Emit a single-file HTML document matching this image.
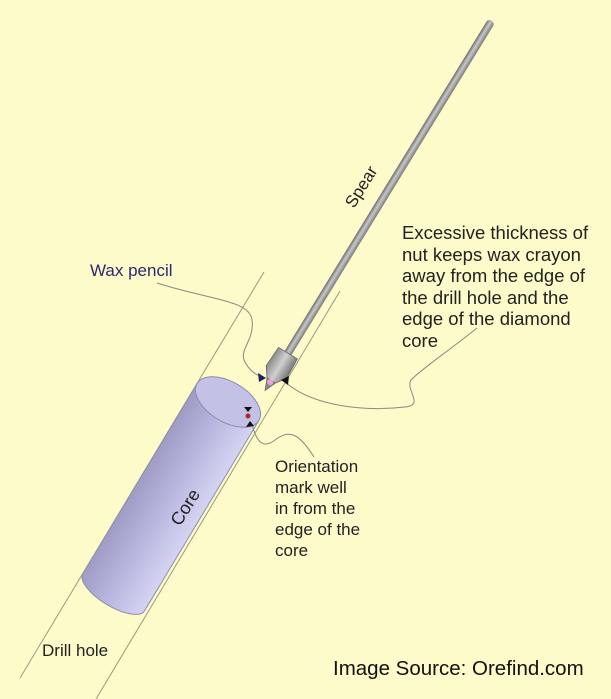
<!DOCTYPE html>
<html><head><meta charset="utf-8"><style>
html,body{margin:0;padding:0;background:#fdfbc9;}
svg{display:block;font-family:"Liberation Sans",Arial,sans-serif;}
</style></head><body>
<svg width="611" height="699" viewBox="0 0 611 699" xmlns="http://www.w3.org/2000/svg">
<defs>
<linearGradient id="cyl" x1="0" y1="0" x2="1" y2="0">
<stop offset="0" stop-color="#9e9cc4"/><stop offset="0.5" stop-color="#b9b7df"/><stop offset="1" stop-color="#d6d4f2"/>
</linearGradient>
<linearGradient id="rod" x1="0" y1="0" x2="1" y2="0">
<stop offset="0" stop-color="#6e6e6e"/><stop offset="0.45" stop-color="#c8c8c8"/><stop offset="1" stop-color="#7a7a7a"/>
</linearGradient>
<linearGradient id="nut" x1="0" y1="0" x2="1" y2="0">
<stop offset="0" stop-color="#8a8a8a"/><stop offset="0.5" stop-color="#d0d0d0"/><stop offset="1" stop-color="#777"/>
</linearGradient>
</defs>
<rect width="611" height="699" fill="#fdfbc9"/>
<!-- drill hole lines -->
<line x1="264" y1="272" x2="20" y2="678" stroke="#9a9a80" stroke-width="1"/>
<line x1="340" y1="291" x2="96" y2="699" stroke="#9a9a80" stroke-width="1"/>
<!-- core cylinder -->
<g transform="translate(228,402) rotate(31)">
<path d="M-36,0 L-36,222 A36,14 0 0 0 36,222 L36,0 Z" fill="url(#cyl)" stroke="#8f8daf" stroke-width="1"/>
<ellipse cx="0" cy="0" rx="36" ry="20" fill="#c3c1e6" stroke="#8f8daf" stroke-width="1"/>
</g>
<!-- spear -->
<g transform="translate(266,389) rotate(31.5)">
<rect x="-4" y="-432" width="8" height="400" rx="4" fill="url(#rod)"/>
<polygon points="-11,-42 11,-42 12,-20 5,-10 -5,-10 -12,-20" fill="url(#nut)" stroke="#666" stroke-width="0.8"/>
<polygon points="-5,-10 5,-10 0,2" fill="#888" stroke="#666" stroke-width="0.6"/>
<circle cx="0" cy="-8" r="3" fill="#f0a0d8"/>
</g>
<!-- connectors -->
<path d="M157,283 C210,300 250,300 252,320 C255,340 238,350 245,362 C250,372 258,376 265,378" fill="none" stroke="#8a8a80" stroke-width="1"/>
<path d="M477,328 C450,350 420,370 411,380 C405,390 425,405 405,407 C360,412 310,405 284,381" fill="none" stroke="#8a8a80" stroke-width="1"/>
<path d="M252,424 C256,440 262,450 275,440 C290,428 300,435 314,457" fill="none" stroke="#8a8a80" stroke-width="1"/>
<!-- arrowheads -->
<polygon points="266,378 258,373 259,382" fill="#22225a"/>
<polygon points="281,380 289,376 288,385" fill="#111"/>
<circle cx="248" cy="416" r="2.5" fill="#c02020"/>
<polygon points="248,412 244,407 252,407" fill="#111"/>
<polygon points="250,421 246,427 254,426" fill="#111"/>
<!-- labels -->
<text x="90" y="276" font-size="17" fill="#2a2a70">Wax pencil</text>
<text transform="translate(354,209) rotate(-58)" font-size="17" fill="#222">Spear</text>
<text transform="translate(180,527) rotate(-58)" font-size="18" fill="#222">Core</text>
<g font-size="18.5" fill="#222">
<text x="402" y="239">Excessive thickness of</text>
<text x="402" y="261">nut keeps wax crayon</text>
<text x="402" y="282">away from the edge of</text>
<text x="402" y="304">the drill hole and the</text>
<text x="402" y="325">edge of the diamond</text>
<text x="402" y="347">core</text>
</g>
<g font-size="17" fill="#222">
<text x="275" y="472">Orientation</text>
<text x="275" y="493">mark well</text>
<text x="275" y="514">in from the</text>
<text x="275" y="535">edge of the</text>
<text x="275" y="556">core</text>
</g>
<text x="42" y="656" font-size="17" fill="#222">Drill hole</text>
<text x="333" y="675" font-size="20.5" fill="#111">Image Source: Orefind.com</text>
</svg>
</body></html>
